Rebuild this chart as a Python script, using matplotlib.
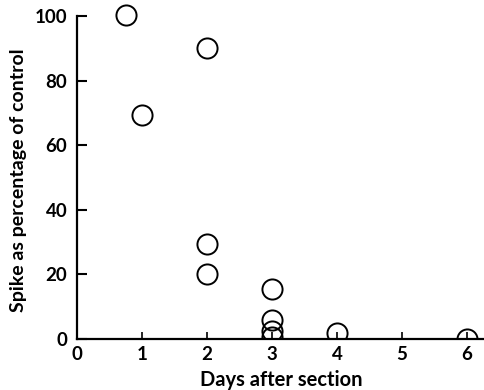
import matplotlib
matplotlib.use("Agg")
import matplotlib.pyplot as plt

days = [0.75, 1.0, 2.0, 2.0, 2.0, 3.0, 3.0, 3.0, 3.0, 4.0, 6.0]
spike_pct = [100.5, 69.5, 90.0, 29.5, 20.0, 15.5, 6.0, 2.5, 0.5, 2.0, 0.0]
xticks = [0, 1, 2, 3, 4, 5, 6]
yticks = [0, 20, 40, 60, 80, 100]

plt.rcParams['font.family'] = ['Lato', 'DejaVu Sans']

fig = plt.figure(figsize=(4.84, 3.90), dpi=100)
ax = fig.add_axes([77/484, 51/390, 1 - 77/484, 1 - 51/390])
ax.plot(days, spike_pct, linestyle='none', marker='o', markersize=14.5,
        markerfacecolor='none', markeredgecolor='black', markeredgewidth=1.4,
        clip_on=True)
ax.set_xlim(0, 407/65)
ax.set_ylim(0, 105)
for s in ['top', 'right']:
    ax.spines[s].set_visible(False)
ax.spines['left'].set_bounds(0, 100)
ax.spines['left'].set_linewidth(1.6)
ax.spines['bottom'].set_linewidth(1.6)
ax.set_xticks(xticks)
ax.set_yticks(yticks)
ax.tick_params(axis='y', direction='in', length=7, width=1.5, pad=7, labelsize=13.5)
ax.tick_params(axis='x', direction='in', length=5, width=1.2, pad=5, labelsize=13.5)
for lab in ax.get_xticklabels() + ax.get_yticklabels():
    lab.set_fontweight('bold')
ax.set_xlabel('Days after section', fontsize=14.5, fontweight='bold')
ax.set_ylabel('Spike as percentage of control', fontsize=14, fontweight='bold',
              va='center')
ax.xaxis.set_label_coords((281 - 77) / 407, -(370 - 339) / 339)
ax.yaxis.set_label_coords(-(77 - 19) / 407, (339 - 180) / 339 * (105 / 105))
fig.savefig('out.png', dpi=100)
